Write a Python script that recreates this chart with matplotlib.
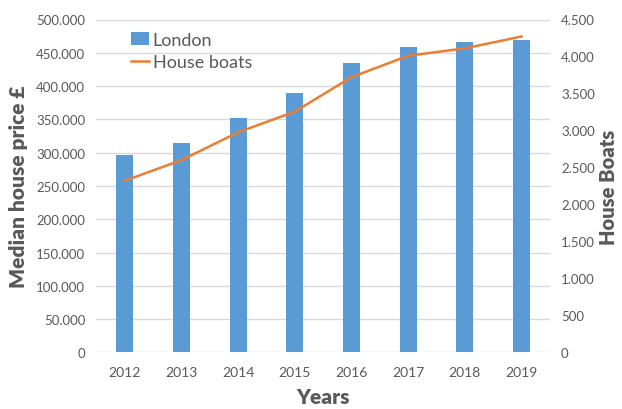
import numpy as np
import matplotlib
matplotlib.use("Agg")
import matplotlib.pyplot as plt
from matplotlib.ticker import FuncFormatter, MultipleLocator

plt.rcParams["font.family"] = ["Lato", "DejaVu Sans"]

years = ["2012", "2013", "2014", "2015", "2016", "2017", "2018", "2019"]
london_price = [297000, 314500, 352000, 389700, 434800, 459300, 466400, 469300]
house_boats = [2320, 2600, 2975, 3255, 3720, 4010, 4110, 4270]

BLUE = "#5B9BD5"
ORANGE = "#ED7D31"
GREY = "#595959"

def dotted(v, pos):
    return f"{int(v):,}".replace(",", ".")

fig = plt.figure(figsize=(6.22, 4.10), dpi=100)
ax = fig.add_axes([0.155, 0.138, 0.729, 0.812])
ax2 = ax.twinx()

x = np.arange(len(years))
ax.bar(x, london_price, width=0.3, color=BLUE, label="London", zorder=2)
ax2.plot(x, house_boats, color=ORANGE, lw=1.8, label="House boats")

ax.set_xlim(-0.5, len(years) - 0.5)
ax.set_ylim(0, 500000)
ax2.set_ylim(0, 4500)
ax.yaxis.set_major_locator(MultipleLocator(50000))
ax2.yaxis.set_major_locator(MultipleLocator(500))
ax.yaxis.set_major_formatter(FuncFormatter(dotted))
ax2.yaxis.set_major_formatter(FuncFormatter(dotted))
ax.set_xticks(x)
ax.set_xticklabels(years)

ax.grid(axis="y", color="#D9D9D9", lw=1, zorder=0)
ax.set_axisbelow(True)
for a in (ax, ax2):
    for s in a.spines.values():
        s.set_visible(False)
    a.tick_params(length=0, labelsize=9.5, colors=GREY)
ax.tick_params(axis="x", labelsize=10, pad=10)
ax.tick_params(axis="y", pad=8)
ax2.tick_params(axis="y", pad=8)

ax.set_xlabel("Years", fontsize=15, fontweight="heavy", color=GREY, labelpad=6)
ax.set_ylabel("Median house price £", fontsize=15, fontweight="heavy", color=GREY, labelpad=6)
ax2.set_ylabel("House Boats", fontsize=14.5, fontweight="heavy", color=GREY, labelpad=3)

h1, l1 = ax.get_legend_handles_labels()
h2, l2 = ax2.get_legend_handles_labels()
leg = ax2.legend(h1 + h2, l1 + l2, loc="upper left", bbox_to_anchor=(0.06, 0.985),
                 frameon=False, fontsize=13, handlelength=1.0, handletextpad=0.2,
                 labelspacing=0.35, borderaxespad=0)
for t in leg.get_texts():
    t.set_color(GREY)

fig.savefig("out.png", dpi=100)
